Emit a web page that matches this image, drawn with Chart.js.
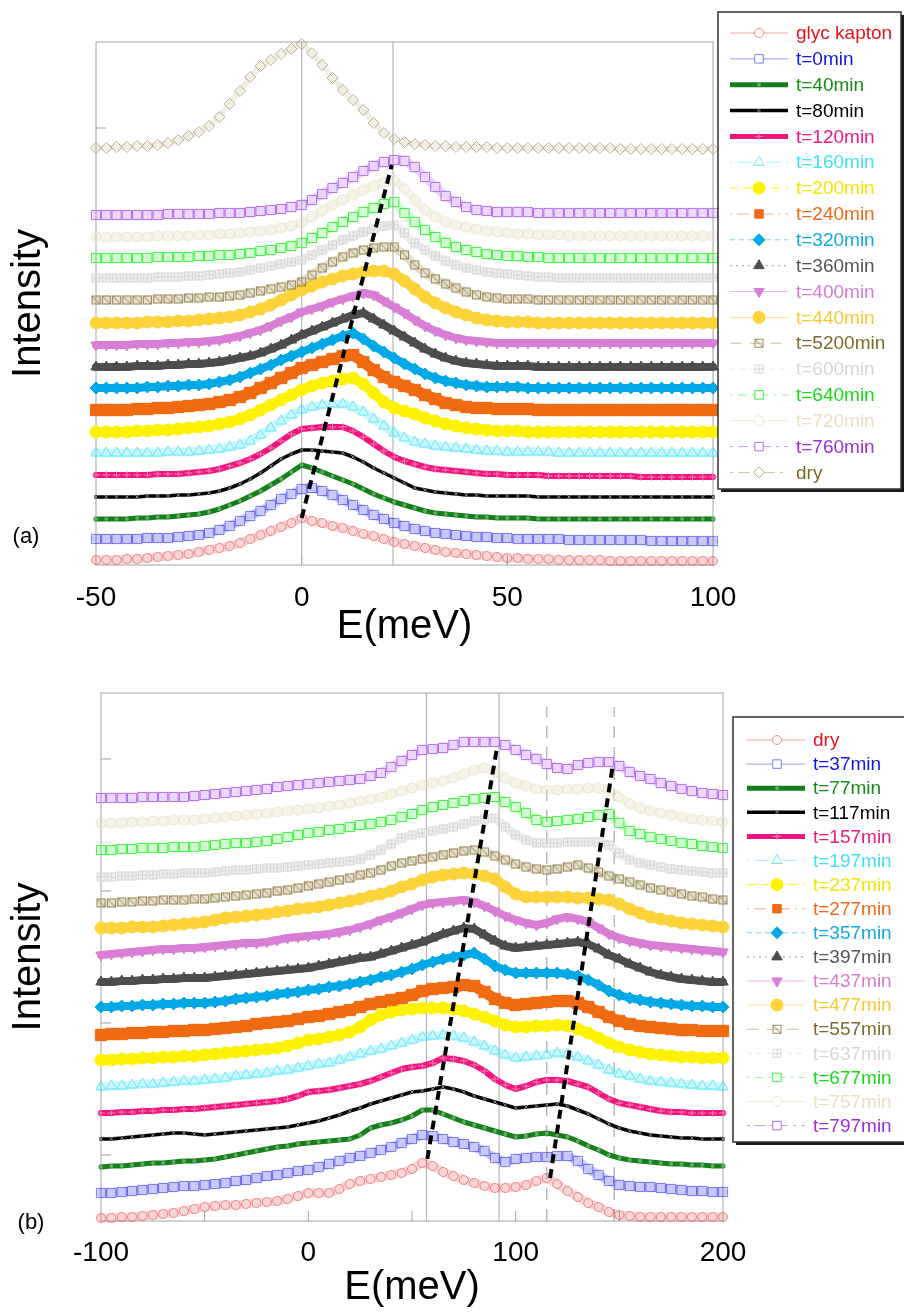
<!DOCTYPE html>
<html>
<head>
<meta charset="utf-8">
<title>Intensity vs E(meV)</title>
<script src="https://cdn.jsdelivr.net/npm/chart.js@4.4.1/dist/chart.umd.min.js"></script>
<style>
  html, body { margin: 0; padding: 0; background: #fff; }
  canvas { display: block; }
</style>
</head>
<body>
<canvas id="chartA" width="904" height="660"></canvas>
<canvas id="chartB" width="904" height="652"></canvas>
<script>
const FONT = "'Liberation Sans', Arial, sans-serif";

// ---------- panel (a) ----------
const energyA = [-50,-47.5,-45,-42.5,-40,-37.5,-35,-32.5,-30,-27.5,-25,-22.5,-20,-17.5,-15,-12.5,-10,-7.5,-5,-2.5,0,
  2.5,5,7.5,10,12.5,15,17.5,20,22.5,25,27.5,30,32.5,35,37.5,40,42.5,45,47.5,50,
  52.5,55,57.5,60,62.5,65,67.5,70,72.5,75,77.5,80,82.5,85,87.5,90,92.5,95,97.5,100];
const labelsA = ["glyc kapton","t=0min","t=40min","t=80min","t=120min","t=160min","t=200min","t=240min","t=320min",
  "t=360min","t=400min","t=440min","t=5200min","t=600min","t=640min","t=720min","t=760min","dry"];
const xTicksA = [-50, 0, 50, 100];

const glycKaptonA = [5,5,5,6,6,7,8,9,10,11,13,15,17,19,22,26,30,34,38,42,47,
  44,42,39,37,34,31,29,26,23,21,19,17,15,13,12,11,10,9,8,7,
  7,6,6,6,5,5,5,5,5,4,4,4,4,4,4,4,4,4,4,4];
const t0A = [26,26,26,26,26,27,27,27,28,29,30,32,35,39,44,49,54,60,66,71,76,
  77,74,70,65,60,55,50,46,42,39,36,34,32,31,30,29,28,28,27,27,
  26,26,26,26,26,25,25,25,25,25,25,25,25,24,24,24,24,24,24,24];
const t40A = [46,46,46,46,47,47,48,48,49,50,51,53,56,60,64,69,74,80,86,93,100,
  97,93,89,85,81,76,71,67,63,60,57,54,52,51,50,49,48,48,47,47,
  47,47,46,46,46,46,46,46,46,46,46,46,46,46,46,46,46,46,46,46];
const t80A = [68,68,68,68,68,69,69,69,70,70,71,72,74,77,81,86,92,99,106,111,115,
  115,114,113,112,108,103,97,92,87,82,77,75,73,72,71,70,70,69,69,69,
  69,69,68,68,68,68,68,68,68,68,68,68,68,68,68,68,68,68,68,68];
const t120A = [90,90,90,90,90,90,91,91,91,92,93,94,96,99,102,106,111,117,124,131,136,
  137,138,138,138,134,128,121,114,108,104,101,98,96,95,94,93,92,91,91,90,
  90,90,90,89,89,89,89,89,89,89,89,89,88,88,88,88,88,88,88,88];
const t160A = [112,112,112,112,112,112,112,113,113,113,114,115,116,118,120,124,130,137,144,150,155,
  158,160,161,161,158,153,146,139,132,127,123,121,119,118,117,116,115,114,114,113,
  113,113,113,113,112,112,112,112,112,112,112,112,112,112,112,112,112,112,112,112];
const t200A = [133,133,133,133,134,134,135,135,136,137,138,139,141,143,146,150,155,160,165,170,175,
  179,182,184,186,187,181,172,163,157,154,151,147,144,141,139,137,136,135,134,134,
  134,133,133,133,133,133,133,133,133,133,133,133,133,133,133,133,133,133,133,133];
const t240A = [155,155,155,155,156,156,157,157,158,159,160,161,163,165,168,172,177,182,187,192,197,
  200,203,206,209,210,203,195,188,183,179,175,170,166,162,160,158,157,157,156,156,
  156,156,155,155,155,155,155,155,155,155,155,155,155,155,155,155,155,155,155,155];
const t320A = [177,177,177,177,177,178,178,179,179,180,180,181,183,185,188,192,196,200,205,209,213,
  217,221,225,229,232,226,219,213,207,201,196,191,187,184,182,180,179,178,178,178,
  178,177,177,177,177,177,177,177,177,177,177,177,177,177,177,177,177,177,177,177];
const t360A = [198,198,198,198,199,199,199,200,200,201,201,202,203,205,207,209,212,216,220,225,230,
  234,238,242,246,250,252,246,240,234,228,222,216,211,207,204,202,201,200,199,199,
  199,199,198,198,198,198,198,198,198,198,198,198,198,198,198,198,198,198,198,198];
const t400A = [220,220,220,220,221,221,221,222,222,223,223,224,225,227,229,232,235,239,244,248,253,
  256,259,263,266,269,272,270,264,258,252,245,239,234,230,227,225,224,223,222,222,
  222,222,222,222,222,222,222,222,222,222,222,222,222,222,222,222,222,222,222,222];
const t440A = [242,242,242,242,242,243,243,243,244,244,245,246,247,248,250,253,256,260,265,270,275,
  279,283,286,289,291,293,294,294,291,284,276,268,262,257,253,250,247,245,244,243,
  243,243,242,242,242,242,242,242,242,242,242,242,242,242,242,242,242,242,242,242];
const t5200A = [265,265,265,265,265,265,266,266,266,267,267,268,268,269,270,272,274,276,278,280,283,
  290,297,303,308,312,315,317,318,318,310,300,292,286,281,277,273,270,268,267,266,
  266,266,265,265,265,265,265,265,265,265,265,265,265,265,265,265,265,265,265,265];
const t600A = [287,287,287,287,287,287,288,288,288,289,289,290,291,292,293,295,297,299,301,303,305,
  310,315,320,325,329,333,336,339,340,332,322,315,309,304,300,297,295,293,292,291,
  290,289,288,288,287,287,287,287,287,287,287,287,287,287,287,287,287,287,287,287];
const t640A = [307,307,307,307,307,307,308,308,308,308,309,309,310,310,311,312,314,315,317,319,322,
  327,332,338,343,348,353,357,361,363,352,343,335,328,322,318,315,313,311,310,309,
  309,308,308,307,307,307,307,307,307,307,307,307,307,307,307,307,307,307,307,307];
const t720A = [328,328,328,328,328,328,329,329,329,329,330,330,331,331,332,333,334,335,337,339,342,
  348,354,360,365,370,375,379,383,385,376,365,355,348,343,340,338,336,334,333,332,
  331,331,330,330,330,329,329,329,329,329,329,329,329,329,329,329,329,329,329,329];
const t760A = [350,350,350,350,350,350,350,351,351,351,351,351,352,352,352,353,354,355,356,358,360,
  365,371,377,382,388,394,399,403,405,404,398,388,378,369,363,358,355,354,353,353,
  353,353,352,352,352,352,352,352,352,352,352,352,352,352,352,352,352,352,352,352];
const dryA = [417,417,418,418,419,419,420,422,425,429,433,439,448,461,474,488,499,505,511,516,521,
  512,500,487,475,465,455,442,432,426,423,421,420,419,419,418,418,418,418,417,417,
  417,417,417,417,417,417,417,417,417,417,416,416,416,416,416,416,416,416,416,416];

// guide lines of panel (a)
const vLinesA = [0, 22.2];
const trendAx = [0, 21.9];
const trendAy = [47, 400];

// ---------- panel (b) ----------
const energyB = [-100,-95,-90,-85,-80,-75,-70,-65,-60,-55,-50,-45,-40,-35,-30,-25,-20,-15,-10,-5,0,
  5,10,15,20,25,30,35,40,45,50,55,60,65,70,75,80,85,90,95,100,
  105,110,115,120,125,130,135,140,145,150,155,160,165,170,175,180,185,190,195,200];
const labelsB = ["dry","t=37min","t=77min","t=117min","t=157min","t=197min","t=237min","t=277min","t=357min",
  "t=397min","t=437min","t=477min","t=557min","t=637min","t=677min","t=757min","t=797min"];
const xTicksB = [-100, 0, 100, 200];

const dryB = [3,3,4,4,5,6,7,8,10,12,14,15,16,16,17,18,19,20,22,25,28,
  28,28,32,37,40,42,44,46,48,52,58,55,49,45,41,38,35,33,33,34,
  36,40,43,37,30,24,18,14,9,6,5,4,4,4,4,4,4,4,4,4];
const t37B = [28,28,29,30,31,32,33,34,35,35,36,37,38,40,41,43,45,46,48,50,51,
  54,57,60,63,65,68,71,74,78,82,86,85,82,79,77,74,70,63,59,62,
  63,64,64,65,65,60,52,46,40,36,35,34,34,33,32,31,30,30,29,29];
const t77B = [54,55,55,56,57,58,58,59,60,60,61,62,64,66,68,70,72,74,75,77,78,
  79,80,81,82,86,93,96,98,101,105,111,111,107,103,99,96,93,90,87,84,
  85,87,88,86,84,80,75,71,66,63,61,60,59,58,57,57,56,56,55,55];
const t117B = [82,82,83,84,85,86,87,88,88,87,86,87,88,89,90,91,92,93,94,96,98,
  100,103,106,110,113,117,120,123,126,129,130,132,134,132,129,125,122,119,116,113,
  114,115,116,117,115,111,107,102,97,93,90,88,86,85,84,83,83,82,82,82];
const t157B = [108,108,109,109,110,110,111,111,112,112,113,114,115,116,117,118,119,120,122,125,129,
  130,131,133,135,137,140,144,148,152,154,155,158,163,162,160,156,150,142,136,132,
  135,139,141,141,140,137,134,128,122,118,116,114,112,110,109,109,108,108,108,108];
const t197B = [134,135,135,136,137,137,138,139,140,140,141,142,143,145,146,147,148,150,151,153,155,
  157,158,161,164,167,170,172,175,178,181,184,185,186,185,183,179,175,170,166,163,
  164,165,166,168,167,164,160,156,151,147,145,142,140,139,138,137,136,135,135,134];
const t237B = [161,161,162,162,163,163,164,164,165,165,166,167,168,169,170,171,172,173,175,178,181,
  182,184,186,189,194,201,206,209,211,212,213,213,213,212,210,207,204,200,196,194,
  194,195,195,196,195,192,188,183,178,174,171,169,167,166,165,164,164,163,163,163];
const t277B = [186,187,187,188,188,189,189,190,190,191,191,192,193,194,195,197,198,199,200,202,204,
  205,207,209,211,214,217,219,221,223,226,230,232,233,234,236,235,229,222,218,216,
  217,218,219,220,220,218,214,209,204,200,197,195,194,193,192,191,191,190,190,190];
const t357B = [214,214,215,215,216,216,217,217,218,218,218,219,220,222,223,224,225,227,228,229,231,
  232,234,235,237,239,241,244,246,249,252,256,259,262,264,266,268,262,255,251,248,
  248,248,248,248,247,245,241,236,230,226,223,221,219,218,217,216,215,215,214,214];
const t397B = [239,239,240,240,241,241,242,242,243,243,243,244,245,246,247,248,249,250,251,252,253,
  255,257,259,261,263,264,267,270,273,276,279,283,287,290,293,292,286,280,275,273,
  274,275,276,277,278,279,277,272,266,262,257,253,249,246,244,242,241,240,239,239];
const t437B = [266,267,268,269,270,271,272,272,273,273,274,275,276,277,278,278,279,281,283,284,285,
  286,287,289,291,294,297,301,304,308,312,316,318,319,320,321,319,315,310,305,301,
  298,296,298,302,304,302,299,293,287,283,280,278,276,275,274,273,272,271,270,269];
const t477B = [293,293,293,294,294,294,295,296,297,298,299,301,303,304,305,306,307,309,310,312,313,
  314,316,318,320,322,325,327,330,334,337,341,344,346,347,348,347,345,342,334,327,
  324,324,324,324,324,323,323,322,321,317,312,308,304,302,300,298,297,296,295,294];
const t557B = [318,318,319,319,320,320,321,321,321,322,322,323,324,325,326,327,328,330,331,333,335,
  337,339,341,343,346,348,351,355,358,360,362,364,366,368,370,371,369,365,361,357,
  354,352,351,352,354,356,353,349,345,342,339,336,333,331,329,327,325,324,322,321];
const t637B = [344,344,345,345,346,346,347,347,348,348,348,349,350,351,351,352,353,353,354,355,356,
  357,358,359,360,362,366,371,377,383,386,388,390,392,394,397,400,402,403,394,386,
  381,378,378,378,379,379,379,379,376,368,361,358,356,354,352,351,350,349,348,348];
const t677B = [371,371,372,372,373,373,373,374,374,374,375,376,377,378,378,379,380,382,384,386,388,
  389,391,392,394,396,397,399,401,404,407,411,414,416,418,420,422,423,424,419,414,
  408,401,399,400,401,402,404,406,407,398,390,387,384,382,380,378,377,375,374,373];
const t757B = [398,398,398,399,399,400,400,401,401,401,402,403,404,405,406,407,408,409,410,411,412,
  413,415,416,418,420,422,424,427,430,433,436,438,440,443,447,451,453,449,443,438,
  435,432,431,431,432,432,433,433,431,424,417,413,410,408,406,404,402,401,400,399];
const t797B = [423,423,423,423,424,424,424,424,424,425,426,427,428,429,430,431,432,434,435,436,437,
  438,439,440,441,442,445,448,454,460,466,471,472,473,476,479,479,479,479,476,471,
  466,462,457,453,452,456,458,459,459,455,449,445,442,438,435,432,430,428,427,426];

// guide lines of panel (b)
const vLinesB = [57, 92];
const dashedVLinesB = [115, 147.5];
const trendB1x = [57.4, 90.8];
const trendB1y = [62, 471];
const trendB2x = [116.6, 147];
const trendB2y = [43, 458];

// little square markers Excel uses, not built into Chart.js
function boxMarker(color, kind) {
  const c = document.createElement("canvas");
  c.width = 11;
  c.height = 11;
  const g = c.getContext("2d");
  g.strokeStyle = color;
  g.lineWidth = 1;
  g.strokeRect(1.5, 1.5, 8, 8);
  g.beginPath();
  if (kind === "diag") {
    g.moveTo(1.5, 1.5);
    g.lineTo(9.5, 9.5);
  } else {
    g.moveTo(5.5, 1.5);
    g.lineTo(5.5, 9.5);
    g.moveTo(1.5, 5.5);
    g.lineTo(9.5, 5.5);
  }
  g.stroke();
  return c;
}

// one style per series position, shared by both panels.
// "band" is the wide stroke that stands in for the dense run of overlapping markers
const seriesStyles = [
  { marker: "circle", r: 4.5, color: "rgba(232,70,70,0.6)", fill: false, line: "#f5a3a3", width: 1, dash: [], text: "#e8131b", band: 9, bandColor: "rgba(232,90,90,0.25)" },
  { marker: "rect", r: 6.5, color: "rgba(40,40,235,0.6)", fill: false, line: "#9b9bff", width: 1, dash: [], text: "#1414e6", band: 9, bandColor: "rgba(60,60,235,0.28)" },
  { marker: "circle", r: 1.5, color: "#6aa86a", fill: true, line: "#15801a", width: 5, dash: [], text: "#178a17" },
  { marker: "crossRot", r: 3, color: "#8a8a8a", fill: false, line: "#000000", width: 3.5, dash: [], text: "#000000" },
  { marker: "cross", r: 4, color: "#f585bb", fill: false, line: "#f0147c", width: 6, dash: [], text: "#ee1a80" },
  { marker: "triangle", r: 6, color: "rgba(70,228,250,0.8)", fill: false, line: "#a3f3fb", width: 1, dash: [2, 6, 14, 6], text: "#3fe3f5", band: 9, bandColor: "rgba(90,230,250,0.3)" },
  { marker: "circle", r: 6, color: "#fff200", fill: true, line: "#fff200", width: 1, dash: [8, 6], text: "#f2e500", band: 10, bandColor: "#fff200" },
  { marker: "rect", r: 8, color: "#f06a12", fill: true, line: "#f8b08a", width: 1, dash: [2, 5, 12, 5], text: "#ee6a14", band: 11, bandColor: "#f06a12" },
  { marker: "rectRot", r: 6, color: "#00a9e6", fill: true, line: "#7fd4f3", width: 1, dash: [5, 4], text: "#12a8e4", band: 8, bandColor: "#00a9e6" },
  { marker: "triangle", r: 6, color: "#4d4d4d", fill: true, line: "#9a9a9a", width: 1, dash: [2, 4], text: "#555555", band: 8, bandColor: "#4d4d4d" },
  { marker: "triangle", rot: 180, r: 6, color: "#d97ed5", fill: true, line: "#e9b5e6", width: 1, dash: [], text: "#d67dcf", band: 8, bandColor: "#d97ed5" },
  { marker: "circle", r: 6, color: "#fdd33a", fill: true, line: "#fde28a", width: 1, dash: [], text: "#f5c932", band: 10, bandColor: "#fdd33a" },
  { marker: boxMarker("#9a8a55", "diag"), r: 5, color: "#9a8a55", fill: false, line: "#c9bd99", width: 1, dash: [12, 8], text: "#7c6b2c", band: 9, bandColor: "rgba(160,140,90,0.28)" },
  { marker: boxMarker("#d6d6d6", "cross"), r: 5, color: "#d6d6d6", fill: false, line: "#e6e6e6", width: 1, dash: [5, 5], text: "#d6d6d6", band: 9, bandColor: "rgba(200,200,200,0.3)" },
  { marker: "rect", r: 6.5, color: "#3cf03c", fill: false, line: "#8ef58e", width: 1, dash: [2, 6, 8, 6], text: "#16dc16", band: 9, bandColor: "rgba(60,240,60,0.22)" },
  { marker: "circle", r: 5, color: "#ede5cb", fill: false, line: "#f0ead8", width: 1, dash: [], text: "#e9dfc2", band: 9, bandColor: "rgba(225,215,180,0.3)" },
  { marker: "rect", r: 6.5, color: "#b36aeb", fill: false, line: "#c79af0", width: 1, dash: [3, 5, 10, 5], text: "#9b2fd8", band: 9, bandColor: "rgba(180,110,235,0.28)" },
  { marker: "rectRot", r: 5.5, color: "#b9ab82", fill: false, line: "#cfc4a4", width: 1, dash: [3, 5, 12, 5], text: "#7a6a26", band: 6, bandColor: "rgba(185,171,130,0.2)" }
];

function makeDeco(p) {
  return {
    id: "deco",
    beforeDatasetsDraw(chart) {
      const { ctx, chartArea: a, scales } = chart;
      ctx.save();
      ctx.strokeStyle = "#c2c2c2";
      ctx.lineWidth = 1.5;
      ctx.strokeRect(a.left, a.top, a.right - a.left, a.bottom - a.top);
      // small inner tick marks
      ctx.strokeStyle = "#a0a0a0";
      ctx.lineWidth = 1;
      ctx.beginPath();
      p.minorX.forEach((v) => {
        const px = scales.x.getPixelForValue(v);
        ctx.moveTo(px, a.bottom);
        ctx.lineTo(px, a.bottom - 10);
      });
      p.minorY.forEach((v) => {
        const py = scales.y.getPixelForValue(v);
        ctx.moveTo(a.left, py);
        ctx.lineTo(a.left + 10, py);
      });
      ctx.stroke();
      ctx.restore();
    },
    afterDraw(chart) {
      const ctx = chart.ctx;
      const lg = p.legend;
      ctx.save();
      // box with drop shadow
      ctx.fillStyle = "#1a1a1a";
      ctx.fillRect(lg.x + 3, lg.y + 3, lg.w, lg.h);
      ctx.fillStyle = "#ffffff";
      ctx.fillRect(lg.x, lg.y, lg.w, lg.h);
      ctx.strokeStyle = "#333";
      ctx.lineWidth = 1.5;
      ctx.strokeRect(lg.x, lg.y, lg.w, lg.h);
      ctx.font = lg.font + "px " + FONT;
      ctx.textBaseline = "middle";
      p.labels.forEach((label, k) => {
        const st = seriesStyles[k];
        const y = lg.row0 + k * lg.gap;
        ctx.strokeStyle = st.line;
        ctx.lineWidth = Math.min(st.width, 5);
        ctx.setLineDash(st.dash);
        ctx.beginPath();
        ctx.moveTo(lg.line0, y);
        ctx.lineTo(lg.line1, y);
        ctx.stroke();
        ctx.setLineDash([]);
        ctx.fillStyle = st.fill ? st.color : "#ffffff";
        ctx.strokeStyle = st.color;
        ctx.lineWidth = 1;
        Chart.helpers.drawPoint(ctx, {
          pointStyle: st.marker,
          rotation: st.rot || 0,
          radius: Math.min(st.r, 6),
          borderWidth: 1
        }, lg.mark, y);
        ctx.fillStyle = st.text;
        ctx.fillText(label, lg.text, y + 1);
      });
      // panel tag
      ctx.fillStyle = "#000";
      ctx.font = "22px " + FONT;
      ctx.textAlign = "center";
      ctx.fillText(p.tag.text, p.tag.x, p.tag.y);
      ctx.restore();
    }
  };
}

function makePanel(canvasId, p) {
  const datasets = [];
  p.series.forEach((vals, i) => {
    const st = seriesStyles[i];
    datasets.push({
      label: p.labels[i],
      data: p.energies.map((e, k) => ({ x: e, y: vals[k] })),
      borderColor: st.band ? st.bandColor : st.line,
      borderWidth: st.band || st.width,
      borderJoinStyle: "round",
      borderCapStyle: "round",
      pointStyle: st.marker,
      pointRotation: st.rot || 0,
      pointRadius: st.r,
      pointBorderColor: st.color,
      pointBackgroundColor: st.fill ? st.color : "rgba(0,0,0,0)",
      pointBorderWidth: 1,
      tension: 0,
      clip: false,
      order: -i
    });
  });
  p.vLines.forEach((v) => {
    datasets.push({ data: [{ x: v, y: 0 }, { x: v, y: p.yMax }], borderColor: "#b5b5b5", borderWidth: 1.2, pointRadius: 0, order: 100 });
  });
  p.dashedVLines.forEach((v) => {
    datasets.push({ data: [{ x: v, y: 0 }, { x: v, y: p.dashTop }], borderColor: "#a8a8a8", borderWidth: 1.2, borderDash: [12, 9], pointRadius: 0, order: 100 });
  });
  p.trends.forEach((tr) => {
    datasets.push({
      data: tr[0].map((x, k) => ({ x: x, y: tr[1][k] })),
      borderColor: "#000", borderWidth: 4, borderDash: [9, 6], borderCapStyle: "butt",
      pointRadius: 0, order: -100
    });
  });

  return new Chart(document.getElementById(canvasId), {
    type: "line",
    data: { datasets: datasets },
    options: {
      responsive: false,
      animation: false,
      events: [],
      layout: { padding: p.pad },
      plugins: { legend: { display: false }, tooltip: { enabled: false } },
      scales: {
        x: {
          type: "linear",
          min: p.xTicks[0],
          max: p.xTicks[p.xTicks.length - 1],
          afterBuildTicks: (s) => { s.ticks = p.xTicks.map((v) => ({ value: v })); },
          ticks: { color: "#000", font: { family: FONT, size: 28 }, padding: p.tickPad, maxRotation: 0 },
          grid: { display: false },
          border: { display: false },
          title: { display: true, text: "E(meV)", color: "#000", font: { family: FONT, size: 40, lineHeight: 1 }, padding: 0 },
          afterFit: (s) => {
            s.height = p.xHeight;
            s.paddingLeft = 0;
            s.paddingRight = 0;
          }
        },
        y: {
          min: 0,
          max: p.yMax,
          ticks: { display: false },
          grid: { display: false },
          border: { display: false },
          title: { display: true, text: "Intensity", color: "#000", font: { family: FONT, size: 40, lineHeight: 1 }, padding: { top: 9, bottom: 0 } },
          afterFit: (s) => {
            s.width = p.yWidth;
            s.paddingTop = 0;
            s.paddingBottom = 0;
          }
        }
      }
    },
    plugins: [makeDeco(p)]
  });
}

makePanel("chartA", {
  energies: energyA,
  labels: labelsA,
  series: [glycKaptonA, t0A, t40A, t80A, t120A, t160A, t200A, t240A, t320A, t360A, t400A, t440A,
    t5200A, t600A, t640A, t720A, t760A, dryA],
  xTicks: xTicksA,
  yMax: 523,
  pad: { left: 0, right: 191, top: 42, bottom: 13 },
  yWidth: 96,
  xHeight: 82,
  tickPad: 8,
  vLines: vLinesA,
  dashedVLines: [],
  dashTop: 0,
  trends: [[trendAx, trendAy]],
  minorX: [0, 50],
  minorY: [437],
  legend: { x: 718, y: 12, w: 183, h: 477, row0: 33, gap: 25.85, line0: 730, line1: 788, mark: 759, text: 796, font: 19 },
  tag: { text: "(a)", x: 26, y: 537 }
});

makePanel("chartB", {
  energies: energyB,
  labels: labelsB,
  series: [dryB, t37B, t77B, t117B, t157B, t197B, t237B, t277B, t357B, t397B, t437B, t477B,
    t557B, t637B, t677B, t757B, t797B],
  xTicks: xTicksB,
  yMax: 528,
  pad: { left: 0, right: 181, top: 33, bottom: 4 },
  yWidth: 101,
  xHeight: 87,
  tickPad: 7,
  vLines: vLinesB,
  dashedVLines: dashedVLinesB,
  dashTop: 514,
  trends: [[trendB1x, trendB1y], [trendB2x, trendB2y]],
  minorX: [-50, 0, 50, 100, 150],
  minorY: [66, 198, 330, 462],
  legend: { x: 733, y: 57, w: 180, h: 425, row0: 80, gap: 24.1, line0: 747, line1: 805, mark: 777, text: 813, font: 19 },
  tag: { text: "(b)", x: 31, y: 563 }
});
</script>
</body>
</html>
